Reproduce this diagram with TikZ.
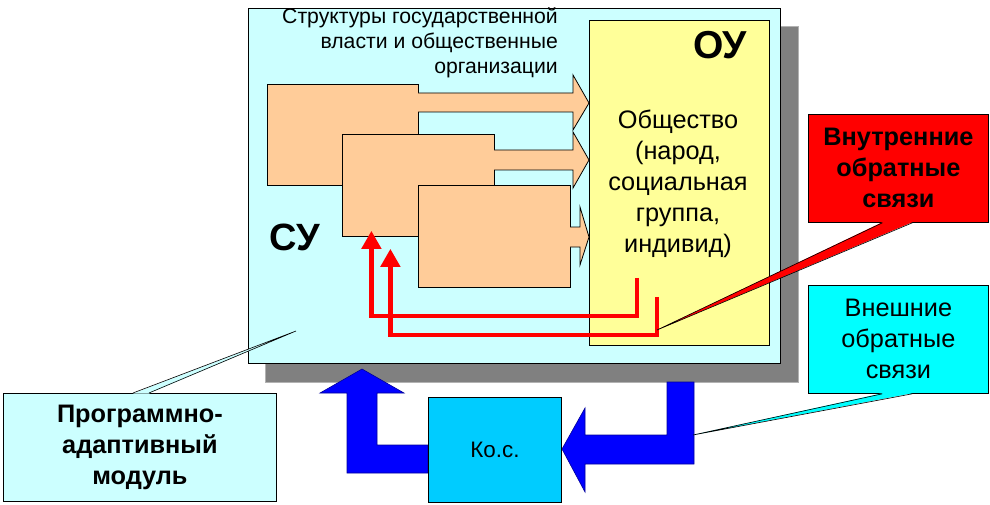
\documentclass[tikz,border=0pt]{standalone}
\usepackage{fontspec}
\setmainfont{Liberation Sans}
\usetikzlibrary{arrows.meta}
\definecolor{sucolor}{HTML}{CCFFFF}
\definecolor{oucolor}{HTML}{FFFF99}
\definecolor{orgcolor}{HTML}{FFCC99}
\definecolor{koscolor}{HTML}{00CCFF}
\definecolor{outcolor}{HTML}{00FFFF}
\definecolor{shadecolor}{HTML}{808080}
\tikzset{
	box/.style={draw, line width=0.8pt, inner sep=0pt, anchor=north west, align=center},
	flow/.style={draw, line width=0.8pt, fill=orgcolor},
	bigflow/.style={draw=blue!60!black, line width=0.6pt, fill=blue},
	feedback/.style={draw=red, line width=4.5pt, -{Triangle[width=19pt,length=18pt]}},
	txt/.style={font=\fontsize{25.3}{31}\selectfont},
	boldtxt/.style={font=\fontsize{25.3}{31}\selectfont\bfseries},
}
\begin{document}
\begin{tikzpicture}[x=1pt,y=-1pt]
				\useasboundingbox (0,0) rectangle (990,505);
				\fill [shadecolor] (265,26) rectangle (798,382);
				\draw [gray!60, line width=0.5pt] (265,26) rectangle (798,382);
				\node [box, fill=sucolor, minimum width=532pt, minimum height=355pt] (su) at (248,8) {};
				\node [box, fill=oucolor, minimum width=180pt, minimum height=325pt] (ou) at (589,20) {};
				\node [align=right, anchor=east, inner sep=0pt, font=\fontsize{21.2}{25}\selectfont] (struct) at (558,43) {Структуры государственной\\власти и общественные\\организации};
				\node [font=\fontsize{39}{39}\selectfont\bfseries] (oulabel) at (720,45) {ОУ};
				\node [font=\fontsize{38}{38}\selectfont\bfseries] (sulabel) at (295,237) {СУ};
				\node [txt, align=center] (society) at (678,184) {Общество\\(народ,\\социальная\\группа,\\индивид)};
				% structures of power
				\node [box, fill=orgcolor, minimum width=151pt, minimum height=101pt] (org1) at (267,84) {};
				\draw [flow] (418,93) -- (573,93) -- (573,75) -- (589,103) -- (573,130) -- (573,112) -- (418,112);
				\node [box, fill=orgcolor, minimum width=152pt, minimum height=102pt] (org2) at (342,134) {};
				\draw [flow] (494,150) -- (573,150) -- (573,132) -- (589,160) -- (573,188) -- (573,170) -- (494,170);
				\node [box, fill=orgcolor, minimum width=152pt, minimum height=102pt] (org3) at (418,185) {};
				\draw [flow] (570,227) -- (580,227) -- (580,207) -- (589,237) -- (580,265) -- (580,247) -- (570,247);
				% internal feedback
				\draw [feedback] ([xshift=48pt,yshift=68pt]ou.south west) -- ++(0,38) -| ([xshift=-47pt,yshift=6pt]org2.south);
				\draw [feedback] ([xshift=68pt,yshift=49pt]ou.south west) -- ++(0,38) -| ([xshift=-28pt,yshift=-12pt]org2.south);
				% external feedback
				\draw [bigflow] (667,382) -- (694,382) -- (694,464) -- (585,464) -- (585,492) -- (562,449) -- (585,408) -- (585,435) -- (667,435) -- cycle;
				\draw [bigflow] (428,445) -- (428,473) -- (347,473) -- (347,393) -- (320,393) -- (362,369) -- (404,393) -- (377,393) -- (377,445) -- cycle;
				\node [box, fill=koscolor, minimum width=133pt, minimum height=105pt, font=\fontsize{22.4}{22}\selectfont] (kos) at (428,397) {Ко.с.};
				% callouts
				\node [box, boldtxt, fill=red, minimum width=180pt, minimum height=108pt] (inner) at (808,114) {Внутренние\\обратные\\связи};
				\fill [red] ([xshift=-16pt,yshift=0.6pt]inner.south) -- (657,330) -- ([xshift=14pt,yshift=0.6pt]inner.south) -- cycle;
				\draw [line width=0.6pt] ([xshift=-16pt]inner.south) -- (657,330) -- ([xshift=14pt]inner.south);
				\node [box, txt, fill=outcolor, minimum width=180pt, minimum height=108pt] (outer) at (808,285) {Внешние\\обратные\\связи};
				\fill [outcolor] ([xshift=-16pt,yshift=0.6pt]outer.south) -- (693,435) -- ([xshift=14pt,yshift=0.6pt]outer.south) -- cycle;
				\draw [line width=0.6pt] ([xshift=-16pt]outer.south) -- (693,435) -- ([xshift=14pt]outer.south);
				\node [box, boldtxt, fill=sucolor, minimum width=273pt, minimum height=108pt] (module) at (3,393) {Программно-\\адаптивный\\модуль};
				\fill [sucolor] ([xshift=-7pt,yshift=-0.6pt]module.north) -- (296,331) -- ([xshift=9pt,yshift=-0.6pt]module.north) -- cycle;
				\draw [line width=0.6pt] ([xshift=-7pt]module.north) -- (296,331) -- ([xshift=9pt]module.north);
			\end{tikzpicture}
\end{document}
